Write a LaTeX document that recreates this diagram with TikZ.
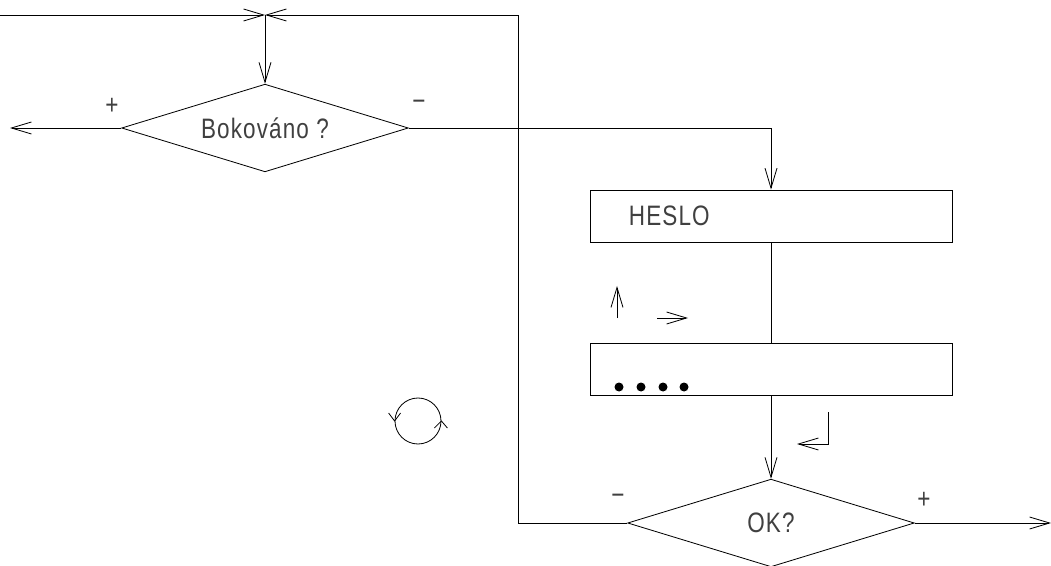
\documentclass[tikz,border=0pt]{standalone}
\usepackage{fontspec}
\setmainfont{Liberation Sans}[FakeStretch=0.8, LetterSpace=4]
\usetikzlibrary{arrows.meta, shapes.geometric, positioning}

\tikzset{
  arr/.style={-{Straight Barb[length=0.6cm, width=0.36cm]}},
  ask/.style={draw, diamond, aspect=3.3, inner sep=0pt, minimum width=8.6cm, minimum height=2.63cm},
  blok/.style={draw, rectangle, text width=8.52cm, inner xsep=1.17cm, align=left, minimum height=1.56cm},
  txt/.style={text=black!75, font=\fontsize{24}{28}\selectfont}
}

\begin{document}
\begin{tikzpicture}[x=0.03cm, y=-0.03cm, line width=0.7pt]
  \useasboundingbox (0,0) rectangle (1051,566);

  % Decisions
  \node[ask, txt] (bok) at (265,128) {Bokováno ?};
  \node[ask, txt] (ok) at (771,523) {OK?};

  % Blocks
  \node[blok, txt] (heslo) at (771,216) {HESLO};
  \node[blok] (dots) at (771,369) {};
  \foreach \x in {619,641,663,684}
    \fill (\x,387) circle (0.135cm);

  % Loose ends
  \coordinate (in) at (0,15);
  \coordinate (jn) at (265,15);
  \coordinate (rt) at (518,15);
  \coordinate (outl) at (10,128);
  \coordinate (outr) at (1051,523);

  % Flow
  \draw[arr] (in) -- (jn);
  \draw[arr] (ok.west) -| (rt) -- (jn);
  \draw[arr] (jn) -- (bok.north);
  \draw[arr] (bok.west) -- (outl);
  \draw[arr] (bok.east) -| (heslo.north);
  \draw (heslo) -- (dots);
  \draw[arr] (dots) -- (ok.north);
  \draw[arr] (ok.east) -- (outr);

  % Branch signs
  \node[txt] (plusl) at (112,106) {+};
  \node[txt] (minusl) at (419,105) {−};
  \node[txt] (minusr) at (618,499) {−};
  \node[txt] (plusr) at (924,500) {+};

  % Hint arrows
  \draw[arr] (617,318) -- (617,286);
  \draw[arr] (657,318) -- (688,318);
  \draw[arr] (828,412) |- (797,444);

  % Cycle
  \node[draw, circle, minimum size=1.38cm, inner sep=0pt] (cyc) at (418,421) {};
  \draw (cyc.west) ++(-6,-8) -- (cyc.west) -- ++(6,-8);
  \draw (cyc.east) ++(-7,7) -- (cyc.east) -- ++(6,7);
\end{tikzpicture}
\end{document}
